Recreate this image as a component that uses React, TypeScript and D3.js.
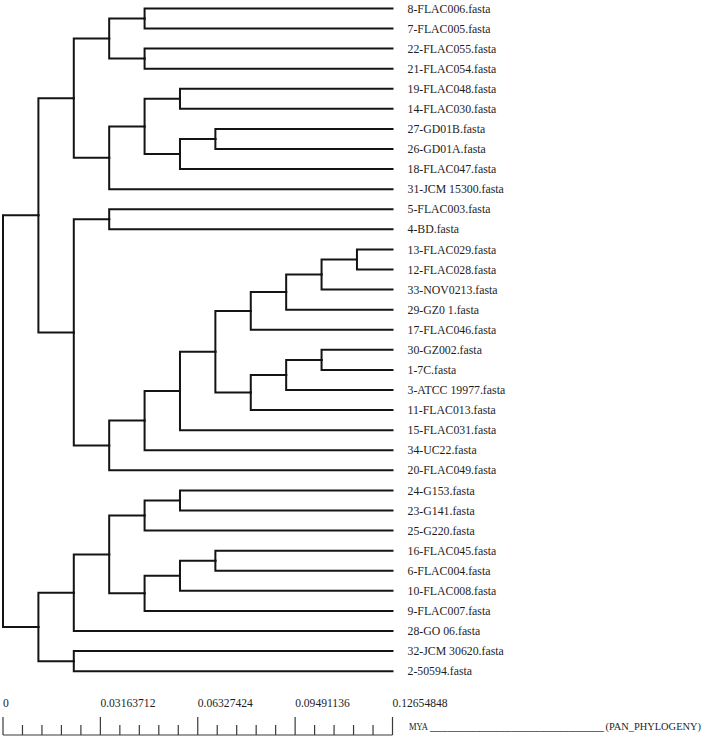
import React, { useMemo } from "react";
import * as d3 from "d3";

// Leaf names in display order (top to bottom)
const leafNames: string[] = [
  "8-FLAC006.fasta", "7-FLAC005.fasta", "22-FLAC055.fasta", "21-FLAC054.fasta",
  "19-FLAC048.fasta", "14-FLAC030.fasta", "27-GD01B.fasta", "26-GD01A.fasta",
  "18-FLAC047.fasta", "31-JCM 15300.fasta", "5-FLAC003.fasta", "4-BD.fasta",
  "13-FLAC029.fasta", "12-FLAC028.fasta", "33-NOV0213.fasta", "29-GZ0 1.fasta",
  "17-FLAC046.fasta", "30-GZ002.fasta", "1-7C.fasta", "3-ATCC 19977.fasta",
  "11-FLAC013.fasta", "15-FLAC031.fasta", "34-UC22.fasta", "20-FLAC049.fasta",
  "24-G153.fasta", "23-G141.fasta", "25-G220.fasta", "16-FLAC045.fasta",
  "6-FLAC004.fasta", "10-FLAC008.fasta", "9-FLAC007.fasta", "28-GO 06.fasta",
  "32-JCM 30620.fasta", "2-50594.fasta",
];
// Parent clade of each leaf (aligned with leafNames)
const leafParents: string[] = [
  "C1", "C1", "C2", "C2", "E1", "E1", "F", "F", "E2", "A1b", "G", "G",
  "L10", "L10", "L9", "L8", "L7", "M9", "M9", "M8", "M7", "J", "I", "H",
  "P1", "P1", "P", "R", "R", "Q1", "Q", "B1", "B2", "B2",
];
const leafDepth = 0.12654848;

// Internal nodes: id, parent, distance from root
const nodeIds: string[] = [
  "root", "A", "B", "A1", "A2", "A1a", "A1b", "C1", "C2", "D1", "E1", "E2", "F",
  "G", "H", "I", "J", "K", "L7", "L8", "L9", "L10", "M7", "M8", "M9",
  "B1", "B2", "B1a", "P", "P1", "Q", "Q1", "R",
];
const nodeParents: string[] = [
  "", "root", "root", "A", "A", "A1", "A1", "A1a", "A1a", "A1b", "D1", "D1", "E2",
  "A2", "A2", "H", "I", "J", "K", "L7", "L8", "L9", "K", "M7", "M8",
  "B", "B", "B1", "B1a", "P", "B1a", "Q", "Q1",
];
const nodeDepths: number[] = [
  0, 0.0115, 0.0115, 0.0230, 0.0230, 0.0345, 0.0345, 0.0460, 0.0460, 0.0460, 0.0575, 0.0575, 0.0690,
  0.0345, 0.0345, 0.0460, 0.0575, 0.0690, 0.0805, 0.0920, 0.1035, 0.1150, 0.0805, 0.0920, 0.1035,
  0.0230, 0.0230, 0.0345, 0.0460, 0.0575, 0.0460, 0.0575, 0.0690,
];

// Scale bar
const majorTicks: number[] = [0, 0.03163712, 0.06327424, 0.09491136, 0.12654848];
const majorTickLabels: string[] = ["0", "0.03163712", "0.06327424", "0.09491136", "0.12654848"];
const minorPerMajor = 5;

type Row = { id: string; parentId: string; depth: number };

export default function App() {
  const W = 708, H = 742;
  const font = '"Liberation Serif", "Times New Roman", Times, serif';

  const { links, leaves, x } = useMemo(() => {
    const rows: Row[] = [];
    nodeIds.forEach((id, i) => rows.push({ id, parentId: nodeParents[i], depth: nodeDepths[i] }));
    leafNames.forEach((name, i) => rows.push({ id: name, parentId: leafParents[i], depth: leafDepth }));
    const root = d3.stratify<Row>().id((d) => d.id).parentId((d) => (d.parentId === "" ? null : d.parentId))(rows);

    const x = d3.scaleLinear().domain([0, 0.12654848]).range([3, 392.5]);
    const y = d3.scalePoint<string>().domain(leafNames).range([8.4, 671.2]);

    const pos = new Map<string, { x: number; y: number }>();
    root.eachAfter((n) => {
      const px = x(n.data.depth);
      let py: number;
      if (!n.children) py = y(n.data.id) as number;
      else {
        const ys = n.children.map((c) => pos.get(c.data.id)!.y);
        py = (d3.min(ys)! + d3.max(ys)!) / 2;
      }
      pos.set(n.data.id, { x: px, y: py });
    });

    const links: string[] = [];
    root.each((n) => {
      if (!n.parent) return;
      const p = pos.get(n.parent.data.id)!;
      const c = pos.get(n.data.id)!;
      links.push(`M${p.x},${p.y}V${c.y}H${c.x}`);
    });
    const leaves = root.leaves().map((l) => ({ name: l.data.id, ...pos.get(l.data.id)! }));
    return { links, leaves, x };
  }, []);

  const step = majorTicks[1] / minorPerMajor;
  const minorTicks = d3.range(0, (majorTicks.length - 1) * minorPerMajor + 1).map((i) => i * step);
  const axisY = 735;

  return (
    <svg width={W} height={H} style={{ position: "absolute", left: 0, top: 0, background: "#fff", fontFamily: font }}>
      <rect width={W} height={H} fill="#fff" />
      <g fill="none" stroke="#141414" strokeWidth={2} strokeLinejoin="miter" strokeLinecap="square">
        {links.map((d, i) => (
          <path key={i} d={d} />
        ))}
      </g>
      <g fill="#1e1e1e" style={{ fontFamily: font, fontSize: "11.8px" }}>
        {leaves.map((l) => (
          <text key={l.name} x={l.x + 15} y={l.y} dy="0.35em">
            {l.name}
          </text>
        ))}
      </g>
      <g stroke="#3a3a3a" strokeWidth={1.2}>
        <line x1={x(0)} x2={x(majorTicks[majorTicks.length - 1])} y1={axisY} y2={axisY} />
        {minorTicks.map((t, i) => (
          <line key={"m" + i} x1={x(t)} x2={x(t)} y1={axisY} y2={i % minorPerMajor === 0 ? axisY - 18 : axisY - 10} />
        ))}
      </g>
      <g fill="#1e1e1e" style={{ fontFamily: font, fontSize: "11.6px" }}>
        {majorTicks.map((t, i) => (
          <text key={"t" + i} x={x(t)} y={707}>
            {majorTickLabels[i]}
          </text>
        ))}
        <text x={409} y={730} textLength={19} lengthAdjust="spacingAndGlyphs" style={{ fontSize: "10px" }}>MYA</text>
        <text x={430} y={730}>______________________________</text>
        <text x={605.5} y={730} style={{ fontSize: "10.4px" }}>(PAN_PHYLOGENY)</text>
      </g>
    </svg>
  );
}
